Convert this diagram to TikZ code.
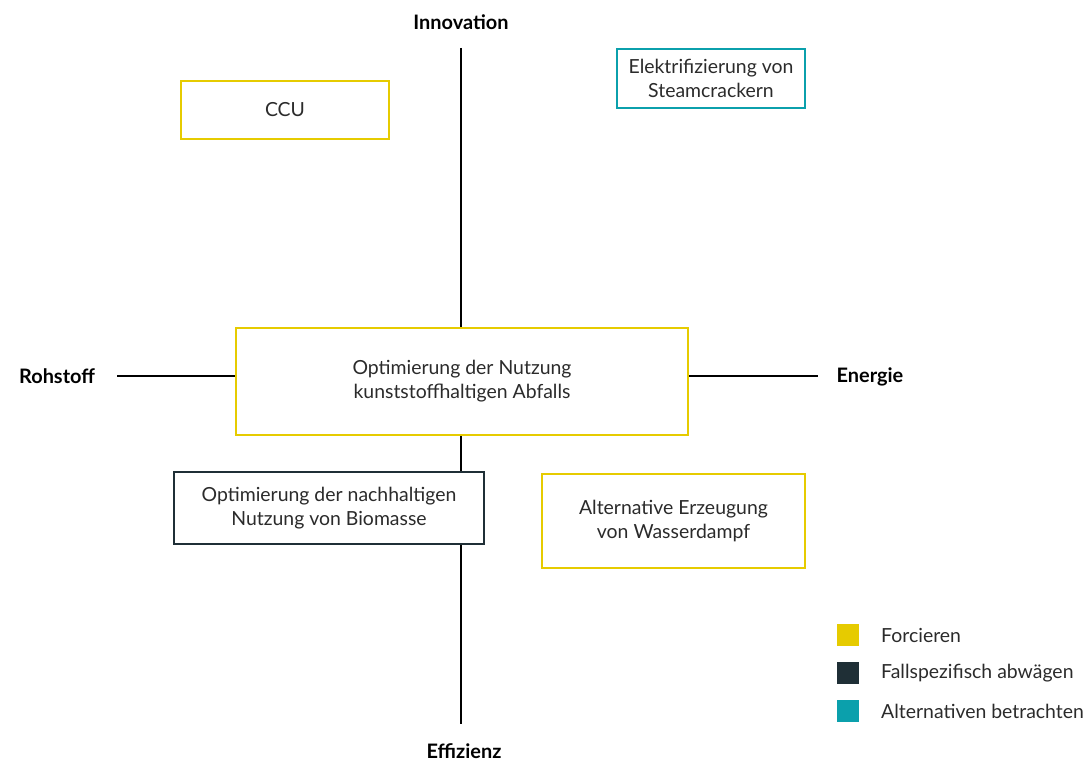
\documentclass[tikz,border=0pt]{standalone}
\usepackage{fontspec}
\setmainfont{Lato}
\definecolor{cyel}{HTML}{E6CB00}
\definecolor{cdark}{HTML}{1F2F36}
\definecolor{cteal}{HTML}{0BA0AC}
\definecolor{ctext}{HTML}{2B2B2B}
\begin{document}
\begin{tikzpicture}[x=1bp,y=-1bp,
  box/.style={draw, line width=2.2bp, fill=white, text=ctext, font=\fontsize{19.5}{24}\selectfont, align=center, inner sep=0pt},
  axis/.style={line width=1.1bp, draw=black},
  axlabel/.style={font=\fontsize{20}{24}\selectfont\bfseries, text=black},
  legsq/.style={minimum size=22bp, inner sep=0pt},
  legtxt/.style={font=\fontsize{19.5}{24}\selectfont, text=ctext, anchor=west, inner sep=0pt}]
\useasboundingbox (0,0) rectangle (1090,763);
% axis labels
\node[axlabel] (inno) at (461,22) {Innovation};
\node[axlabel] (effi) at (464,751) {Effizienz};
\node[axlabel] (roh) at (57,376) {Rohstoff};
\node[axlabel] (ene) at (870,377) {Energie};
\coordinate (ytop) at (461,48);
\coordinate (ybot) at (461,724);
\coordinate (xl) at (117,376);
\coordinate (xr) at (818,376);
\draw[axis] (ytop) -- (ybot);
\draw[axis] (xl) -- (xr);
% boxes
\node[box, draw=cyel, minimum width=208bp, minimum height=58bp] (ccu) at (285,110) {CCU};
\node[box, draw=cteal, minimum width=188bp, minimum height=59bp] (elek) at (711,78.5) {Elektrifizierung von\\Steamcrackern};
\node[box, draw=cyel, minimum width=452bp, minimum height=107bp] (opt) at (462,381.5) {Optimierung der Nutzung\\kunststoffhaltigen Abfalls};
\node[box, draw=cdark, minimum width=310bp, minimum height=72bp] (bio) at (329,508) {Optimierung der nachhaltigen\\Nutzung von Biomasse};
\node[box, draw=cyel, minimum width=263bp, minimum height=94bp] (alt) at (673.5,521) {Alternative Erzeugung\\von Wasserdampf};
% legend
\node[legsq, fill=cyel] (l1) at (848,635) {};
\node[legsq, fill=cdark] (l2) at (848,673) {};
\node[legsq, fill=cteal] (l3) at (848,711) {};
\node[legtxt] (t1) at (881,635) {Forcieren};
\node[legtxt] (t2) at (881,673) {Fallspezifisch abwägen};
\node[legtxt] (t3) at (881,711) {Alternativen betrachten};
\end{tikzpicture}
\end{document}
